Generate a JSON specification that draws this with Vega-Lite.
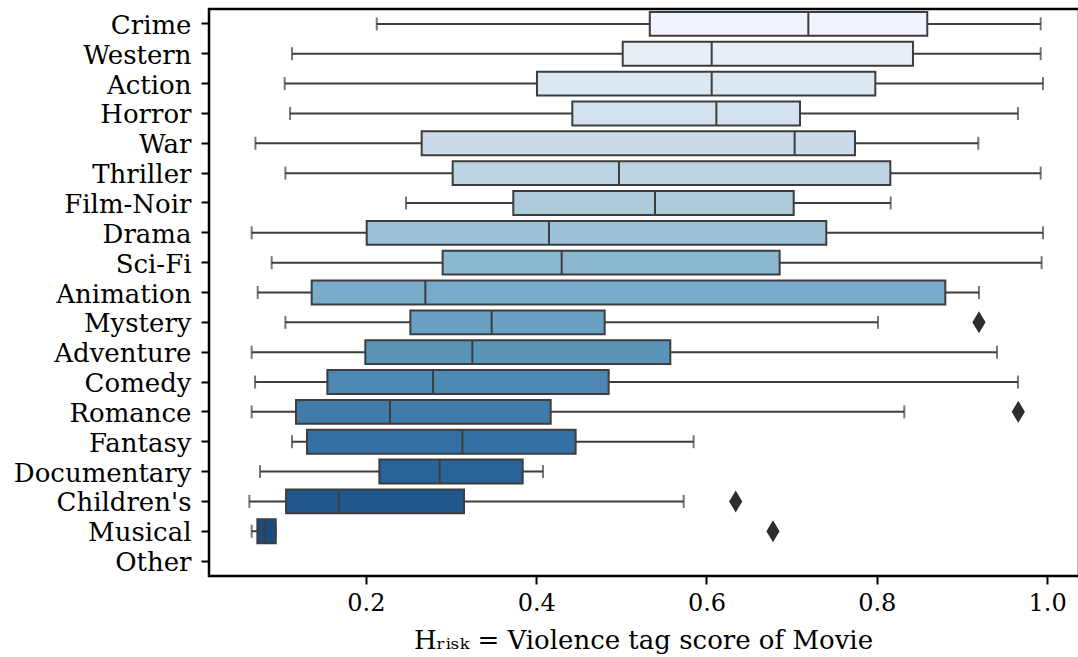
{
  "$schema": "https://vega.github.io/schema/vega-lite/v6.json",
  "autosize": {"type": "none"},
  "padding": {"left": 209, "top": 9, "right": 0, "bottom": 81},
  "width": 870,
  "height": 567,
  "background": "white",
  "config": {
    "view": {"stroke": "black", "strokeWidth": 2.5},
    "axis": {
      "domain": false,
      "grid": false,
      "tickColor": "black",
      "tickWidth": 2,
      "tickSize": 8,
      "labelColor": "black",
      "labelFont": "DejaVu Serif",
      "titleFont": "DejaVu Serif",
      "titleColor": "black",
      "titleFontWeight": "normal"
    }
  },
  "datasets": {
    "boxes": [
      {"genre": "Crime", "lo": 0.2127, "q1": 0.5334, "med": 0.7196, "q3": 0.8593, "hi": 0.9925},
      {"genre": "Western", "lo": 0.1132, "q1": 0.5016, "med": 0.6061, "q3": 0.8425, "hi": 0.9925},
      {"genre": "Action", "lo": 0.1046, "q1": 0.4009, "med": 0.6061, "q3": 0.7983, "hi": 0.9952},
      {"genre": "Horror", "lo": 0.1109, "q1": 0.4424, "med": 0.6116, "q3": 0.7098, "hi": 0.9658},
      {"genre": "War", "lo": 0.0702, "q1": 0.2655, "med": 0.7035, "q3": 0.7744, "hi": 0.9192},
      {"genre": "Thriller", "lo": 0.1054, "q1": 0.3019, "med": 0.4972, "q3": 0.8159, "hi": 0.9925},
      {"genre": "Film-Noir", "lo": 0.2471, "q1": 0.3731, "med": 0.5395, "q3": 0.7024, "hi": 0.8163},
      {"genre": "Drama", "lo": 0.0658, "q1": 0.2009, "med": 0.415, "q3": 0.7407, "hi": 0.9952},
      {"genre": "Sci-Fi", "lo": 0.0893, "q1": 0.2901, "med": 0.4299, "q3": 0.6859, "hi": 0.9936},
      {"genre": "Animation", "lo": 0.0729, "q1": 0.1363, "med": 0.2698, "q3": 0.8805, "hi": 0.92},
      {"genre": "Mystery", "lo": 0.1054, "q1": 0.2522, "med": 0.3477, "q3": 0.4804, "hi": 0.8014},
      {"genre": "Adventure", "lo": 0.0658, "q1": 0.1993, "med": 0.325, "q3": 0.5575, "hi": 0.9412},
      {"genre": "Comedy", "lo": 0.0698, "q1": 0.1547, "med": 0.2788, "q3": 0.4851, "hi": 0.9658},
      {"genre": "Romance", "lo": 0.0658, "q1": 0.1179, "med": 0.2283, "q3": 0.417, "hi": 0.8323},
      {"genre": "Fantasy", "lo": 0.1132, "q1": 0.1308, "med": 0.3133, "q3": 0.4463, "hi": 0.5849},
      {"genre": "Documentary", "lo": 0.0756, "q1": 0.2158, "med": 0.2866, "q3": 0.3841, "hi": 0.408},
      {"genre": "Children's", "lo": 0.0631, "q1": 0.1062, "med": 0.168, "q3": 0.3152, "hi": 0.5732},
      {"genre": "Musical", "lo": 0.0658, "q1": 0.0725, "med": 0.0811, "q3": 0.0941, "hi": 0.0941}
    ],
    "outliers": [
      {"genre": "Mystery", "value": 0.92},
      {"genre": "Romance", "value": 0.9662},
      {"genre": "Children's", "value": 0.6343},
      {"genre": "Musical", "value": 0.6781}
    ]
  },
  "data": {"name": "boxes"},
  "encoding": {
    "y": {
      "field": "genre",
      "type": "nominal",
      "scale": {
        "domain": ["Crime", "Western", "Action", "Horror", "War", "Thriller", "Film-Noir", "Drama", "Sci-Fi", "Animation", "Mystery", "Adventure", "Comedy", "Romance", "Fantasy", "Documentary", "Children's", "Musical", "Other"],
        "paddingInner": 0,
        "paddingOuter": 0
      },
      "axis": {"title": null, "labelFontSize": 26, "labelPadding": 10, "labelOffset": 2}
    }
  },
  "layer": [
    {
      "mark": {"type": "rule", "color": "#3d3d3d", "strokeWidth": 2},
      "encoding": {
        "x": {
          "field": "lo",
          "type": "quantitative",
          "scale": {"domain": [0.0157, 1.0375], "nice": false, "zero": false},
          "axis": {
            "values": [0.2, 0.4, 0.6, 0.8, 1.0],
            "format": ".1f",
            "labelFontSize": 24,
            "labelPadding": 7,
            "title": "Hᵣᵢₛₖ = Violence tag score of Movie",
            "titleFontSize": 26,
            "titlePadding": 12,
            "titleX": 434
          }
        },
        "x2": {"field": "hi"}
      }
    },
    {
      "mark": {"type": "tick", "color": "#3d3d3d", "thickness": 2, "size": 13},
      "encoding": {"x": {"field": "lo", "type": "quantitative"}}
    },
    {
      "mark": {"type": "tick", "color": "#3d3d3d", "thickness": 2, "size": 13},
      "encoding": {"x": {"field": "hi", "type": "quantitative"}}
    },
    {
      "mark": {"type": "bar", "height": {"band": 0.8}, "stroke": "#3d3d3d", "strokeWidth": 2, "opacity": 1},
      "encoding": {
        "x": {"field": "q1", "type": "quantitative"},
        "x2": {"field": "q3"},
        "color": {
          "field": "genre",
          "type": "nominal",
          "legend": null,
          "scale": {
            "domain": ["Crime", "Western", "Action", "Horror", "War", "Thriller", "Film-Noir", "Drama", "Sci-Fi", "Animation", "Mystery", "Adventure", "Comedy", "Romance", "Fantasy", "Documentary", "Children's", "Musical"],
            "range": ["#eff5fa", "#e6eef6", "#dce8f1", "#d4e1ee", "#cbdbea", "#bcd3e3", "#aecbdc", "#9dc1d6", "#8bb8d0", "#78abc9", "#6aa0c1", "#5a94b9", "#4d88b2", "#407baa", "#3470a3", "#2a6399", "#20578f", "#194b81"]
          }
        }
      }
    },
    {
      "mark": {"type": "tick", "color": "#3d3d3d", "thickness": 2, "size": 23.9, "opacity": 1},
      "encoding": {"x": {"field": "med", "type": "quantitative"}}
    },
    {
      "data": {"name": "outliers"},
      "mark": {"type": "point", "shape": "M0,-1L0.6,0L0,1L-0.6,0Z", "filled": true, "color": "#2d2d2d", "size": 484, "opacity": 1},
      "encoding": {"x": {"field": "value", "type": "quantitative"}}
    }
  ]
}
